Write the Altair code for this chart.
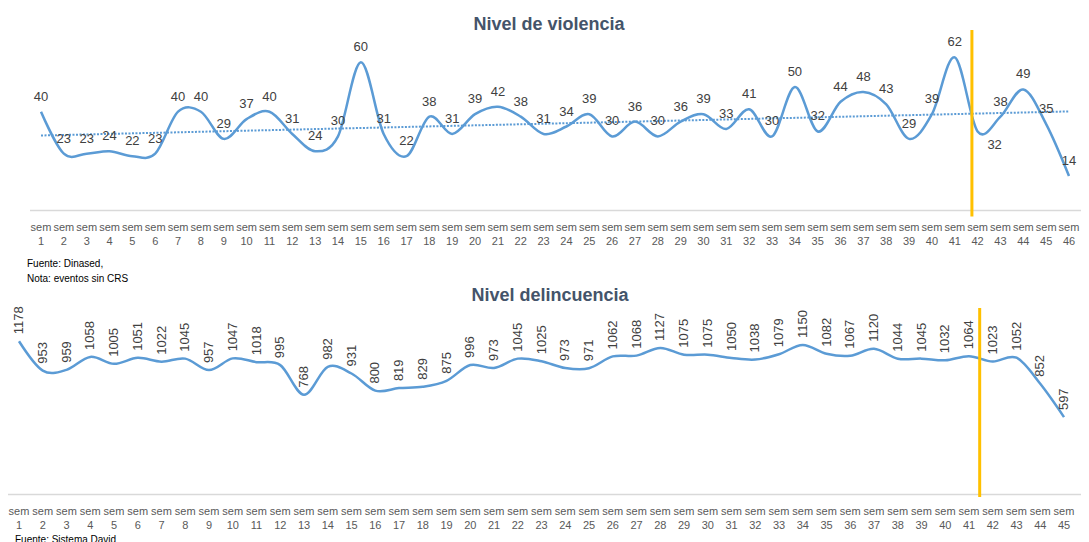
import altair as alt
import pandas as pd

# ---------------- data ----------------
semanas_violencia = list(range(1, 47))
violencia = [40, 23, 23, 24, 22, 23, 40, 40, 29, 37, 40, 31, 24, 30, 60, 31, 22, 38,
             31, 39, 42, 38, 31, 34, 39, 30, 36, 30, 36, 39, 33, 41, 30, 50, 32, 44,
             48, 43, 29, 39, 62, 32, 38, 49, 35, 14]
semanas_delincuencia = list(range(1, 46))
delincuencia = [1178, 953, 959, 1058, 1005, 1051, 1022, 1045, 957, 1047, 1018, 995,
                768, 982, 931, 800, 819, 829, 875, 996, 973, 1045, 1025, 973, 971,
                1062, 1068, 1127, 1075, 1075, 1050, 1038, 1079, 1150, 1082, 1067,
                1120, 1044, 1045, 1032, 1064, 1023, 1052, 852, 597]
corte_violencia = [41.75]
corte_delincuencia = [41.45]
etiquetas_abajo_violencia = [42]
prefijo_semana = "sem"
titulo_violencia = "Nivel de violencia"
titulo_delincuencia = "Nivel delincuencia"
notas_violencia = ["Fuente: Dinased,", "Nota: eventos sin CRS"]
nota_delincuencia = "Fuente: Sistema David"

# ---------------- style ----------------
FONT = "Liberation Sans"
BLUE = "#5B9BD5"
ORANGE = "#FFC000"
LABEL = "#404040"
AXIS_LABEL = "#595959"
TITLE = "#44546A"
GRID = "#D9D9D9"
W = 1073
H = 534

df_v = pd.DataFrame({"sem": semanas_violencia, "valor": violencia})
df_d = pd.DataFrame({"sem": semanas_delincuencia, "valor": delincuencia})
df_cv = pd.DataFrame({"sem": corte_violencia})
df_cd = pd.DataFrame({"sem": corte_delincuencia})
one = pd.DataFrame({"k": [0]})

# panel geometry (pixel ranges inside the single view)
TOP_ZERO, TOP_PX_PER_UNIT = 202.5, 2.47
BOT_ZERO, BOT_PX_PER_UNIT = 487.0, 0.1305


def scale(dom, rng):
    return alt.Scale(domain=dom, range=rng, nice=False, zero=False)


XV = alt.X("sem:Q", scale=scale([1, 46], [33, 1061]), axis=None)
YV = alt.Y("valor:Q", scale=scale([0, 60], [TOP_ZERO, TOP_ZERO - 60 * TOP_PX_PER_UNIT]),
           axis=None)
XD = alt.X("sem:Q", scale=scale([1, 45], [11, 1056]), axis=None)
YD = alt.Y("valor:Q", scale=scale([0, 1000], [BOT_ZERO, BOT_ZERO - 1000 * BOT_PX_PER_UNIT]),
           axis=None)


def txt(**kw):
    base = dict(font=FONT, fontSize=13, color=LABEL)
    base.update(kw)
    return base


layers = []

# ---------------- top panel ----------------
base_v = alt.Chart(df_v).encode(x=XV, y=YV)
layers.append(alt.Chart(one).mark_rule(color=GRID, strokeWidth=1.5).encode(
    x=alt.value(22), x2=alt.value(W), y=alt.value(TOP_ZERO)))
layers.append(base_v.transform_regression("sem", "valor").mark_line(
    color=BLUE, strokeWidth=2, strokeDash=[2, 1.5]))
layers.append(base_v.mark_line(interpolate="cardinal", color=BLUE, strokeWidth=2.5))
layers.append(alt.Chart(df_cv).mark_rule(color=ORANGE, strokeWidth=3).encode(
    x=XV, y=alt.value(22), y2=alt.value(TOP_ZERO + 6)))
layers.append(base_v.transform_filter(
    ~alt.FieldOneOfPredicate(field="sem", oneOf=etiquetas_abajo_violencia)
).mark_text(**txt(baseline="alphabetic", dy=-11)).encode(text="valor:Q"))
layers.append(base_v.transform_filter(
    alt.FieldOneOfPredicate(field="sem", oneOf=etiquetas_abajo_violencia)
).mark_text(**txt(baseline="top", dy=8, dx=17)).encode(text="valor:Q"))
layers.append(alt.Chart(df_v).mark_text(**txt(fontSize=11, color=AXIS_LABEL, baseline="middle")).encode(
    x=XV, y=alt.value(TOP_ZERO + 17.5), text=alt.value(prefijo_semana)))
layers.append(alt.Chart(df_v).mark_text(**txt(fontSize=11, color=AXIS_LABEL, baseline="middle")).encode(
    x=XV, y=alt.value(TOP_ZERO + 31.5), text=alt.Text("sem:Q", format="d")))
layers.append(alt.Chart(one).mark_text(**txt(fontSize=18, fontWeight="bold", color=TITLE,
                                             baseline="alphabetic")).encode(
    x=alt.value(541), y=alt.value(22), text=alt.value(titulo_violencia)))
for i, nota in enumerate(notas_violencia):
    layers.append(alt.Chart(one).mark_text(**txt(fontSize=10, color="#000000", align="left",
                                                 baseline="alphabetic")).encode(
        x=alt.value(19), y=alt.value(258.5 + 15 * i), text=alt.value(nota)))

# ---------------- bottom panel ----------------
base_d = alt.Chart(df_d).encode(x=XD, y=YD)
layers.append(alt.Chart(one).mark_rule(color=GRID, strokeWidth=1.5).encode(
    x=alt.value(0), x2=alt.value(W), y=alt.value(BOT_ZERO - 0.5)))
layers.append(base_d.mark_line(interpolate="cardinal", color=BLUE, strokeWidth=2.5))
layers.append(alt.Chart(df_cd).mark_rule(color=ORANGE, strokeWidth=3).encode(
    x=XD, y=alt.value(300), y2=alt.value(BOT_ZERO + 2)))
layers.append(base_d.mark_text(**txt(angle=270, align="left", baseline="middle", dx=7)).encode(
    text="valor:Q"))
layers.append(alt.Chart(df_d).mark_text(**txt(fontSize=11, color=AXIS_LABEL, baseline="middle")).encode(
    x=XD, y=alt.value(BOT_ZERO + 17), text=alt.value(prefijo_semana)))
layers.append(alt.Chart(df_d).mark_text(**txt(fontSize=11, color=AXIS_LABEL, baseline="middle")).encode(
    x=XD, y=alt.value(BOT_ZERO + 30.5), text=alt.Text("sem:Q", format="d")))
layers.append(alt.Chart(one).mark_text(**txt(fontSize=18, fontWeight="bold", color=TITLE,
                                             baseline="alphabetic")).encode(
    x=alt.value(542), y=alt.value(293), text=alt.value(titulo_delincuencia)))
layers.append(alt.Chart(one).mark_text(**txt(fontSize=10, color="#000000", align="left",
                                             baseline="alphabetic")).encode(
    x=alt.value(7), y=alt.value(535), text=alt.value(nota_delincuencia)))

chart = alt.layer(*layers).resolve_scale(x="independent", y="independent").properties(
    width=W, height=H, padding=0, background="white",
    autosize=alt.AutoSizeParams(type="none"),
).configure_view(stroke=None)

chart.save("out.html", embed_options={"renderer": "svg", "actions": False})
